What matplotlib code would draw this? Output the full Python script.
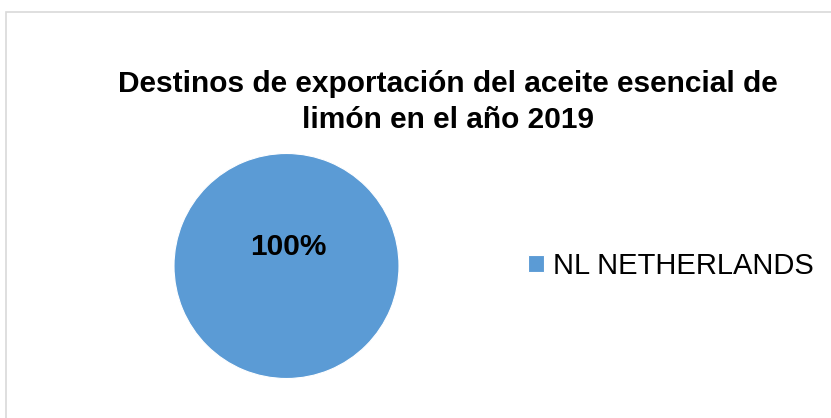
import matplotlib
matplotlib.use("Agg")
import matplotlib.pyplot as plt
from matplotlib.patches import Rectangle

plt.rcParams['font.family'] = ['Liberation Sans', 'DejaVu Sans']

categories = ["NL NETHERLANDS"]
values = [100]
colors = ["#5B9BD5"]
title = "Destinos de exportación del aceite esencial de\nlimón en el año 2019"

W, H = 831, 418
fig = plt.figure(figsize=(W / 100, H / 100), dpi=100)
fig.patch.set_facecolor("white")

# chart border
fig.add_artist(Rectangle((6 / W, -0.05), 1.0, 1 - 12 / H + 0.05, transform=fig.transFigure,
                         fill=False, edgecolor="#D9D9D9", linewidth=1.2))

# pie axes
cx, cy, r = 286.5, 266, 112.5
ax = fig.add_axes([(cx - r) / W, (H - cy - r) / H, 2 * r / W, 2 * r / H])
wedges, _ = ax.pie(values, colors=colors, startangle=90, counterclock=False,
                   wedgeprops=dict(edgecolor="white", linewidth=0.8))
ax.set_xlim(-1, 1)
ax.set_ylim(-1, 1)
ax.set_aspect("equal")
ax.axis("off")

total = sum(values)
ax.text(0.02, 0.17, f"{values[0] / total * 100:.0f}%", ha="center", va="center",
        fontsize=21.5, fontweight="bold", color="black")

fig.text(447.5 / W, 1 - 102 / H, title, ha="center", va="center", fontsize=21.5,
         fontweight="bold", linespacing=1.38)

fig.legend(wedges, categories, loc="center left", bbox_to_anchor=(528 / W, 1 - 266 / H),
           frameon=False, fontsize=21, handlelength=0.55, handleheight=0.55,
           handletextpad=0.3, borderpad=0, borderaxespad=0)

fig.savefig("out.png", dpi=100, facecolor="white")
